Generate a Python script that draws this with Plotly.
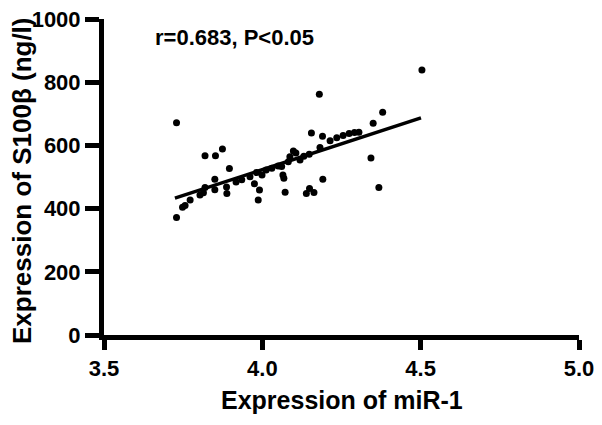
import plotly.graph_objects as go

# Data
mir1 = [3.729, 3.729, 3.748, 3.756, 3.772, 3.803, 3.814, 3.819, 3.819, 3.852,
        3.874, 3.896, 3.850, 3.850, 3.887, 3.888, 3.917, 3.935, 3.961, 3.975,
        3.991, 3.987, 3.999, 4.012, 4.030, 4.050, 3.982, 4.065, 4.068, 4.072,
        4.098, 4.087, 4.082, 4.061, 4.106, 4.119, 4.131, 4.155, 4.180, 4.190,
        4.214, 4.235, 4.255, 4.274, 4.291, 4.305, 4.148, 4.182, 4.191, 4.139,
        4.149, 4.163, 4.343, 4.368, 4.350, 4.380, 4.504]
s100b = [672, 372, 404, 410, 427, 443, 450, 467, 567, 567,
         589, 527, 493, 460, 468, 448, 484, 491, 501, 479,
         459, 427, 506, 522, 528, 535, 514, 506, 496, 452,
         582, 564, 548, 533, 576, 554, 566, 639, 762, 629,
         615, 624, 631, 638, 641, 642, 572, 593, 493, 448,
         464, 451, 560, 467, 670, 705, 839]

fit_x = [3.724, 4.501]
fit_y = [433, 687]

x_ticks = [3.5, 4.0, 4.5, 5.0]
x_ticklabels = ["3.5", "4.0", "4.5", "5.0"]
y_ticks = [0, 200, 400, 600, 800, 1000]
y_ticklabels = ["0", "200", "400", "600", "800", "1000"]

x_title = "Expression of miR-1"
y_title = "Expression of S100β (ng/l)"
stat_text = "r=0.683, P<0.05"

FONT = "Liberation Sans, Arial, sans-serif"

fig = go.Figure()
fig.add_trace(go.Scatter(x=mir1, y=s100b, mode="markers",
                         marker=dict(color="black", size=7),
                         showlegend=False, cliponaxis=False))
fig.add_trace(go.Scatter(x=fit_x, y=fit_y, mode="lines",
                         line=dict(color="black", width=3.5),
                         showlegend=False))

fig.update_layout(
    width=594, height=417,
    margin=dict(l=96, r=23, t=11, b=90),
    paper_bgcolor="white", plot_bgcolor="white",
    font=dict(family=FONT, color="black", size=22, weight="bold"),
    xaxis=dict(range=[3.5, 5.0], tickvals=x_ticks,
               ticktext=["<b>%s</b>" % t for t in x_ticklabels],
               automargin=False, ticklabeloverflow="allow",
               showgrid=False, zeroline=False, showline=True,
               linecolor="black", linewidth=5, ticks="outside",
               ticklen=10, tickwidth=5, tickcolor="black",
               tickfont=dict(family=FONT, size=22, color="black", weight=700)),
    yaxis=dict(range=[0, 1000], tickvals=y_ticks,
               ticktext=["<b>%s</b>" % t for t in y_ticklabels],
               automargin=False, ticklabeloverflow="allow",
               showgrid=False, zeroline=False, showline=True,
               linecolor="black", linewidth=5, ticks="outside",
               ticklen=14, tickwidth=5, tickcolor="black",
               tickfont=dict(family=FONT, size=22, color="black", weight=700)),
    annotations=[
        dict(text="<b>%s</b>" % stat_text, xref="paper", yref="paper",
             x=0.103, y=0.943,
             xanchor="left", yanchor="middle", showarrow=False,
             font=dict(family=FONT, size=22, color="black")),
        dict(text="<b>%s</b>" % x_title, xref="paper", yref="paper", x=0.5, y=0,
             xanchor="center", yanchor="middle", yshift=-65, showarrow=False,
             font=dict(family=FONT, size=25, color="black")),
        dict(text="<b>%s</b>" % y_title, xref="paper", yref="paper", x=0, y=0.5,
             xanchor="center", yanchor="middle", xshift=-82, yshift=-4,
             textangle=-90, showarrow=False,
             font=dict(family=FONT, size=26, color="black")),
    ],
)

fig.write_html("out.html")
